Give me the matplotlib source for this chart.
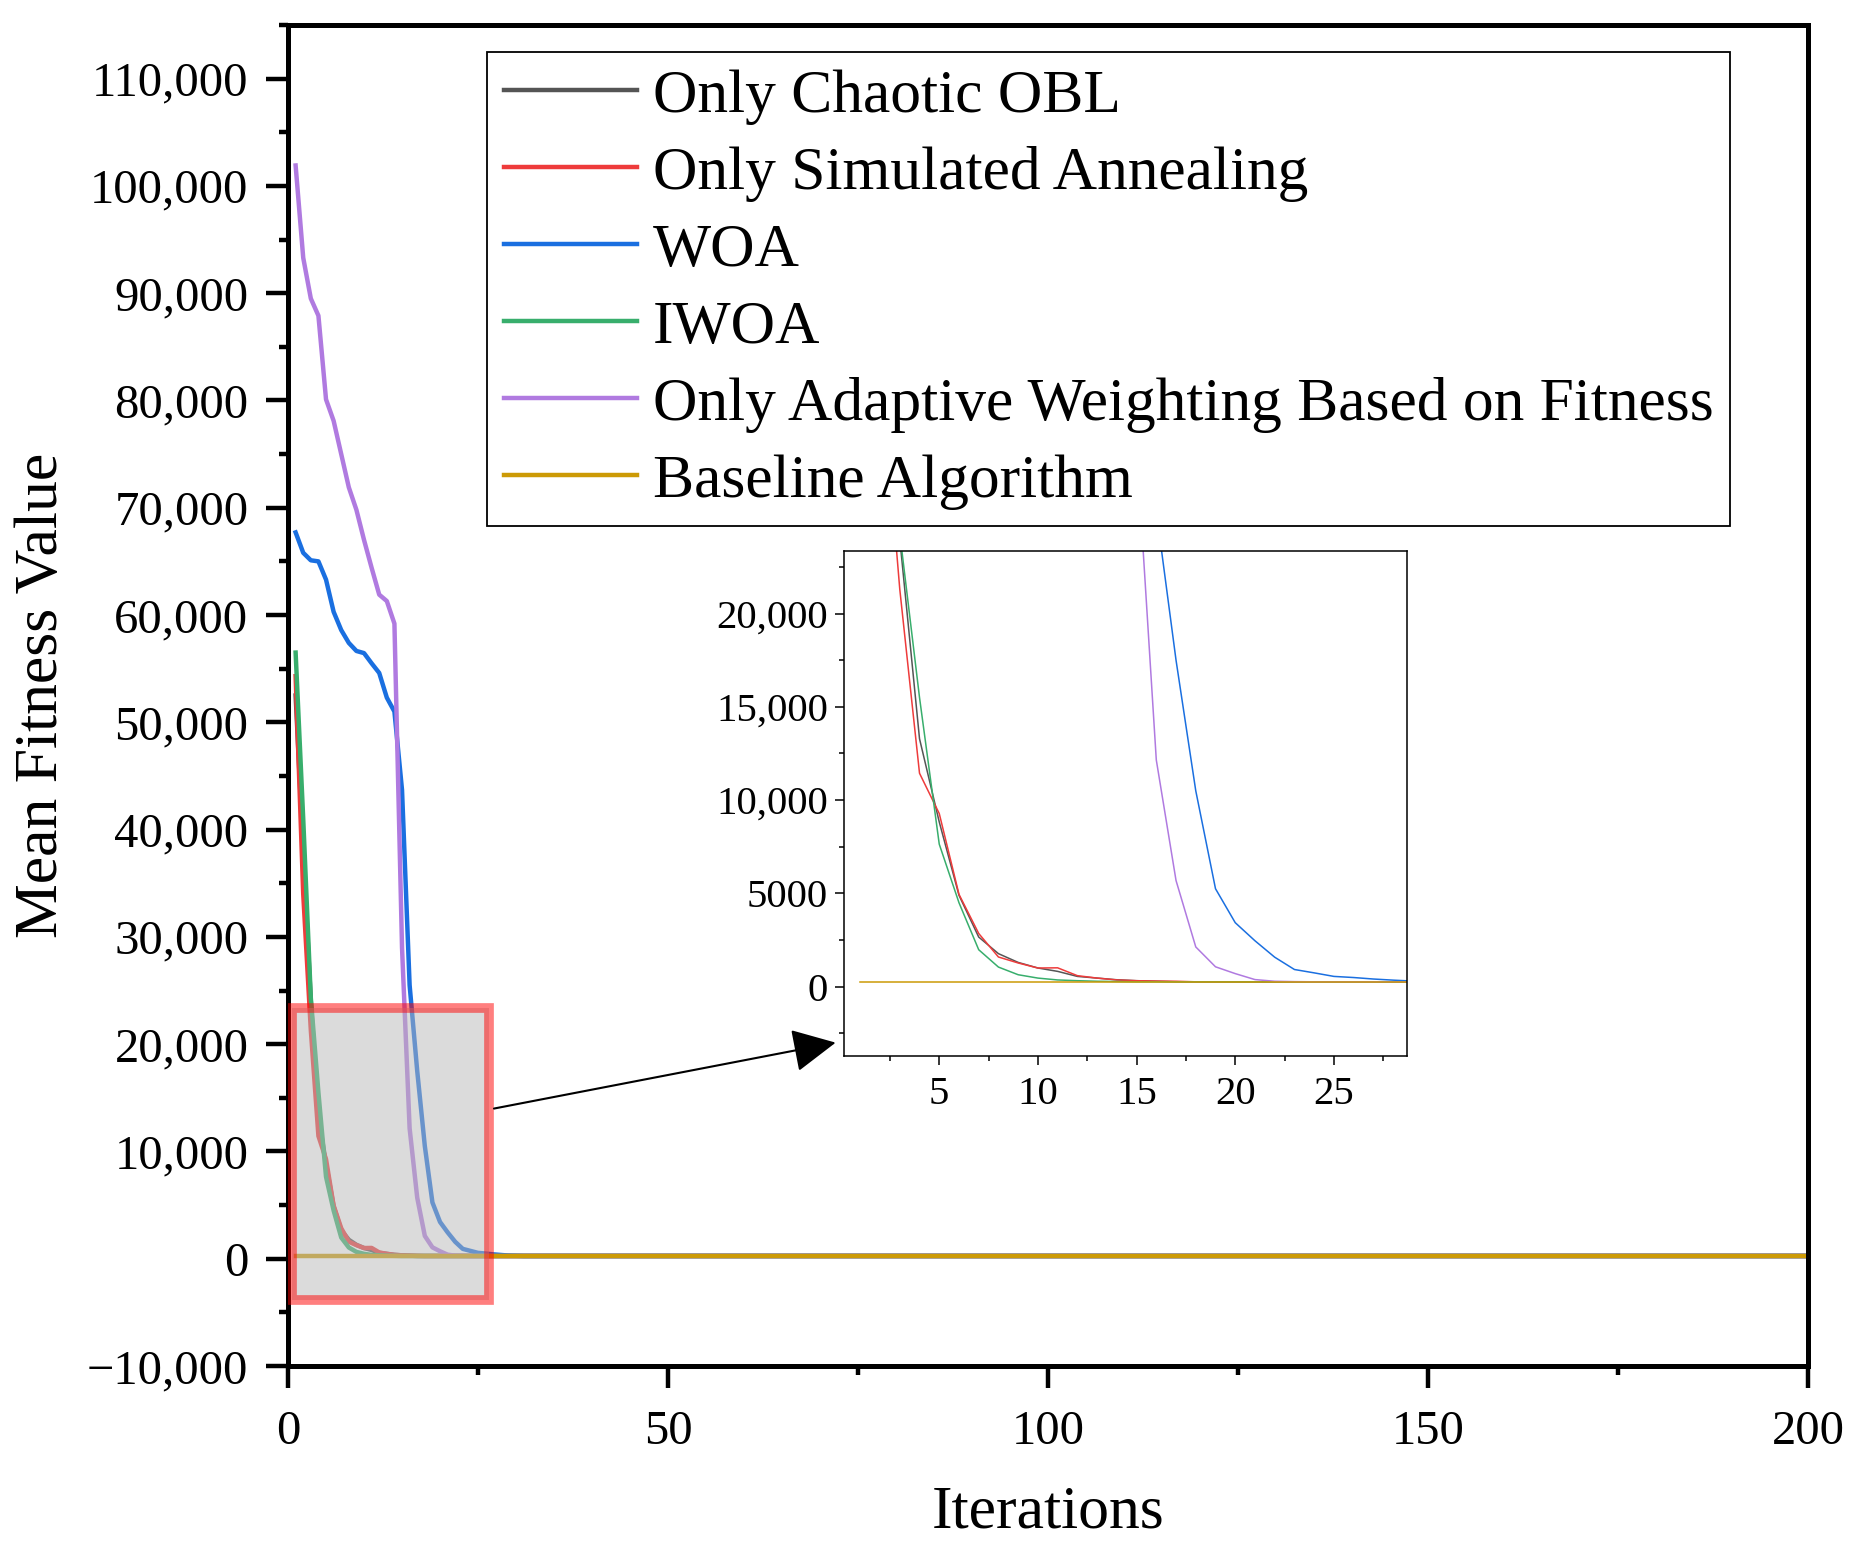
import numpy as np
import matplotlib.pyplot as plt
from matplotlib.patches import Rectangle, ConnectionPatch, ArrowStyle
from matplotlib.ticker import MultipleLocator, FuncFormatter

plt.rcParams['font.family'] = ['Liberation Serif', 'DejaVu Serif']

n_iter = 200
plateau = 260          # level all curves settle on after convergence
baseline_value = 250

labels = ['Only Chaotic OBL', 'Only Simulated Annealing', 'WOA', 'IWOA',
          'Only Adaptive Weighting Based on Fitness', 'Baseline Algorithm']
colors = ['#555555', '#ee3b3b', '#1a6fe0', '#38ae6c', '#b07ae0', '#cc9a06']

# mean fitness for the first iterations, flat afterwards
chaotic_obl = [52500, 38000, 24000, 13290, 8830, 4900, 2660, 1770, 1300, 1000,
               820, 550, 460, 370, 320, 290]
sim_annealing = [54300, 34000, 21300, 11440, 9280, 4950, 2850, 1590, 1270, 1000,
                 1010, 590, 460, 360, 320, 300, 290]
woa = [67700, 65800, 65100, 65000, 63300, 60300, 58600, 57400, 56650, 56450,
       55500, 54600, 52300, 51000, 43700, 25500, 17500, 10500, 5250, 3430,
       2460, 1580, 920, 740, 550, 490, 410, 350, 300, 280]
iwoa = [56500, 41000, 24300, 15500, 7640, 4500, 1980, 1050, 640, 460,
        360, 320, 290, 275]
adaptive_weight = [101900, 93300, 89500, 87900, 80100, 78100, 75000, 71900, 69800, 67000,
                   64400, 61900, 61300, 59200, 29000, 12150, 5690, 2130, 1065, 700,
                   380, 290, 270]
baseline = [baseline_value] * n_iter


def pad(head):
    return head + [plateau] * (n_iter - len(head))


series = [pad(chaotic_obl), pad(sim_annealing), pad(woa), pad(iwoa),
          pad(adaptive_weight), baseline]
x = np.arange(1, n_iter + 1)


def main_fmt(v, pos):
    return f'{v:,.0f}'.replace('-', '\u2212')


def inset_fmt(v, pos):
    if abs(v) >= 10000:
        return f'{v:,.0f}'.replace('-', '\u2212')
    return f'{v:.0f}'.replace('-', '\u2212')


fig = plt.figure(figsize=(18.63, 15.58), dpi=100)
ax = fig.add_axes([0.1546, 0.1232, 0.8159, 0.8608])

for y, c, lab in zip(series, colors, labels):
    ax.plot(x, y, color=c, lw=3.2, label=lab)

ax.set_xlim(0, 200)
ax.set_ylim(-10000, 115000)
ax.xaxis.set_major_locator(MultipleLocator(50))
ax.xaxis.set_minor_locator(MultipleLocator(25))
ax.yaxis.set_major_locator(MultipleLocator(10000))
ax.yaxis.set_minor_locator(MultipleLocator(5000))
ax.yaxis.set_major_formatter(FuncFormatter(main_fmt))
ax.tick_params(which='major', length=16, width=3.2, labelsize=35)
ax.tick_params(which='minor', length=6.5, width=3.2)
ax.tick_params(axis='x', which='major', pad=16)
ax.tick_params(axis='y', which='major', pad=12.5)
for s in ax.spines.values():
    s.set_linewidth(3.6)

ax.set_xlabel('Iterations', fontsize=44.5, labelpad=22)
ax.set_ylabel('Mean Fitness Value', fontsize=44.5, labelpad=12)

# zoom window marker
ax.add_patch(Rectangle((0.54, -3810), 25.86, 27170, facecolor=(0.72, 0.72, 0.72, 0.5),
                       edgecolor=(1, 0, 0, 0.5), lw=7, zorder=5))

ax.legend(loc='upper left', bbox_to_anchor=(0.2614, 0.9665), bbox_transform=fig.transFigure,
          borderaxespad=0, fontsize=44.3, handlelength=2.16, handletextpad=0.27,
          labelspacing=0.34, borderpad=0.27, fancybox=False, edgecolor='k',
          framealpha=1).get_frame().set_linewidth(1.3)

# inset
ins = fig.add_axes([0.4530, 0.3222, 0.3025, 0.3241])
for y, c in zip(series, colors):
    ins.plot(x, y, color=c, lw=1.1)
ins.set_xlim(0.17, 28.73)
ins.set_ylim(-3717, 23350)
ins.xaxis.set_major_locator(MultipleLocator(5))
ins.xaxis.set_minor_locator(MultipleLocator(2.5))
ins.yaxis.set_major_locator(MultipleLocator(5000))
ins.yaxis.set_minor_locator(MultipleLocator(2500))
ins.yaxis.set_major_formatter(FuncFormatter(inset_fmt))
ins.tick_params(which='major', length=6.5, width=1.1, labelsize=29.3)
ins.tick_params(which='minor', length=3.6, width=1.1)
ins.tick_params(axis='x', which='major', pad=8)
ins.tick_params(axis='y', which='major', pad=5)
for s in ins.spines.values():
    s.set_linewidth(1.1)

arrow = ConnectionPatch(xyA=(27.1, 14000), coordsA=ax.transData,
                        xyB=(-0.25, -3000), coordsB=ins.transData,
                        arrowstyle=ArrowStyle('-|>', head_length=0.4, head_width=0.2),
                        mutation_scale=68, lw=1.5, color='k')
fig.add_artist(arrow)

fig.savefig('out.png', dpi=100)
